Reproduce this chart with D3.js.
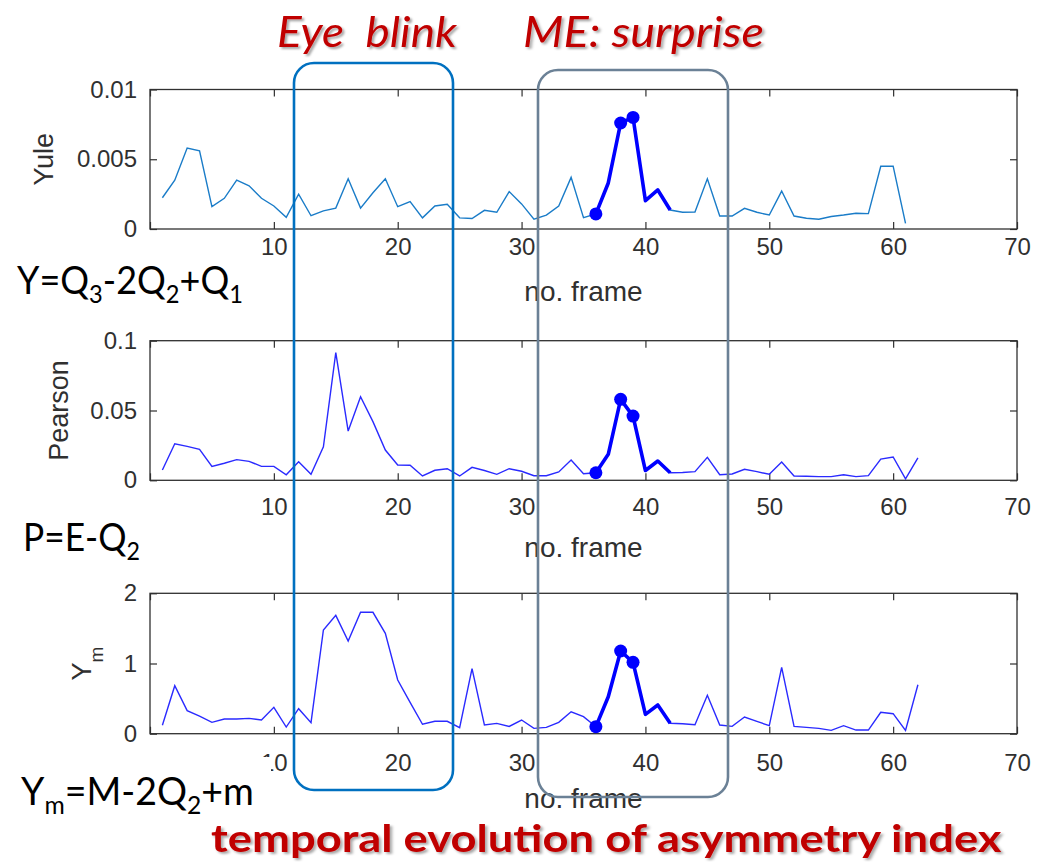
<!DOCTYPE html>
<html>
<head>
<meta charset="utf-8">
<script src="https://cdn.jsdelivr.net/npm/d3@7"></script>
<style>
    html, body { margin: 0; padding: 0; background: #fff; }
    svg { display: block; }
</style>
</head>
<body>
<svg id="chart" width="1038" height="862"></svg>
<script>
// frame numbers on the x axis
const frameTicks = [0, 10, 20, 30, 40, 50, 60, 70];

// Yule index, frames 1..61
const yuleValues = [
    0.00224, 0.0035, 0.0058, 0.0056, 0.0016, 0.0022, 0.0035, 0.0031, 0.0022, 0.00165,
    0.00084, 0.0025, 0.00095, 0.0013, 0.0015, 0.0036, 0.0015, 0.0026, 0.0036, 0.0016,
    0.00196, 0.0008, 0.00165, 0.00177, 0.0008, 0.00075, 0.00134, 0.0012, 0.00268, 0.0018,
    0.0007, 0.001, 0.00165, 0.0037, 0.00081, 0.00108, 0.0033, 0.0076, 0.0080, 0.00203,
    0.0028, 0.00136, 0.0012, 0.00122, 0.0036, 0.00093, 0.00093, 0.00148, 0.0012, 0.0010,
    0.00272, 0.00093, 0.00077, 0.0007, 0.0009, 0.001, 0.00113, 0.0011, 0.0045, 0.0045,
    0.0004
];

// Pearson index, frames 1..62
const pearsonValues = [
    0.0074, 0.0262, 0.0243, 0.0222, 0.010, 0.0122, 0.0148, 0.0136, 0.010, 0.010,
    0.004, 0.0133, 0.0043, 0.024, 0.0914, 0.0353, 0.0599, 0.042, 0.0217, 0.011,
    0.0108, 0.0031, 0.0072, 0.0083, 0.0031, 0.0093, 0.007, 0.0043, 0.0083, 0.0065,
    0.0033, 0.0033, 0.006, 0.0145, 0.0047, 0.0054, 0.0186, 0.058, 0.046, 0.007,
    0.0138, 0.0054, 0.0056, 0.0062, 0.0165, 0.004, 0.0045, 0.0079, 0.0062, 0.0043,
    0.0131, 0.0031, 0.0029, 0.0026, 0.0026, 0.004, 0.0026, 0.0033, 0.0152, 0.0167,
    0.001, 0.016
];

// Ym index, frames 1..62
const ymValues = [
    0.12, 0.684, 0.328, 0.252, 0.162, 0.209, 0.209, 0.218, 0.195, 0.376,
    0.095, 0.356, 0.157, 1.477, 1.686, 1.32, 1.729, 1.729, 1.43, 0.765,
    0.447, 0.134, 0.177, 0.177, 0.085, 0.926, 0.124, 0.147, 0.104, 0.195,
    0.076, 0.09, 0.162, 0.313, 0.242, 0.1, 0.527, 1.178, 1.017, 0.276,
    0.409, 0.148, 0.142, 0.128, 0.547, 0.123, 0.104, 0.238, 0.176, 0.114,
    0.946, 0.104, 0.09, 0.076, 0.048, 0.114, 0.052, 0.052, 0.304, 0.285,
    0.048, 0.698
];

// the micro-expression stretch drawn thick, and the frames with dots
const highlightRange = [36, 42];
const markerFrames = [36, 38, 39];

const yuleTicks = [0, 0.005, 0.01];
const yuleTickLabels = ["0", "0.005", "0.01"];
const pearsonTicks = [0, 0.05, 0.1];
const pearsonTickLabels = ["0", "0.05", "0.1"];
const ymTicks = [0, 1, 2];
const ymTickLabels = ["0", "1", "2"];

const svg = d3.select("#chart");
const axisFont = '"Liberation Sans", Arial, Helvetica, sans-serif';
const slideFont = 'Lato, "Open Sans", sans-serif';
const axisInk = "#303030";

const x = d3.scaleLinear().domain([0, 70]).range([150, 1017]);

const panels = [
    { label: "Yule", values: yuleValues, ticks: yuleTicks, tickLabels: yuleTickLabels,
      max: 0.01, top: 89.5, bottom: 229, color: "#1a7cc8", pad: 9, xlabelY: 301, ylabelX: 44 },
    { label: "Pearson", values: pearsonValues, ticks: pearsonTicks, tickLabels: pearsonTickLabels,
      max: 0.1, top: 340.7, bottom: 480.3, color: "#2a2aff", pad: 18, xlabelY: 557, ylabelX: 59 },
    { label: "Ym", values: ymValues, ticks: ymTicks, tickLabels: ymTickLabels,
      max: 2, top: 593.3, bottom: 733.7, color: "#2a2aff", pad: 20, xlabelY: 808, ylabelX: 82 }
];

panels.forEach(p => {
    const y = d3.scaleLinear().domain([0, p.max]).range([p.bottom, p.top]);
    const g = svg.append("g");

    const styleAxis = sel => {
        sel.select(".domain").remove();
        sel.selectAll(".tick line").attr("stroke", axisInk).attr("stroke-width", 1.2);
        sel.selectAll(".tick text")
            .attr("fill", axisInk)
            .style("font-family", axisFont)
            .style("font-size", "24px");
    };

    // the "0" frame label sits under the slide's formula box, so it is left out
    g.append("g")
        .attr("transform", `translate(0,${p.bottom})`)
        .call(d3.axisBottom(x).tickValues(frameTicks).tickSize(-7).tickPadding(p.pad)
            .tickFormat(d => d === 0 ? "" : d3.format("d")(d)))
        .call(styleAxis);
    g.append("g")
        .attr("transform", `translate(0,${p.top})`)
        .call(d3.axisTop(x).tickValues(frameTicks).tickSize(-7).tickFormat(""))
        .call(styleAxis);
    g.append("g")
        .attr("transform", `translate(${x(0)},0)`)
        .call(d3.axisLeft(y).tickValues(p.ticks).tickSize(-7).tickPadding(13)
            .tickFormat((d, i) => p.tickLabels[i]))
        .call(styleAxis);
    g.append("g")
        .attr("transform", `translate(${x(70)},0)`)
        .call(d3.axisRight(y).tickValues(p.ticks).tickSize(-7).tickFormat(""))
        .call(styleAxis);

    g.append("rect")
        .attr("x", x(0)).attr("y", p.top)
        .attr("width", x(70) - x(0)).attr("height", p.bottom - p.top)
        .attr("fill", "none").attr("stroke", axisInk).attr("stroke-width", 1.3);

    // series
    const pts = p.values.map((v, i) => ({ f: i + 1, v }));
    const line = d3.line().x(d => x(d.f)).y(d => y(d.v));

    g.append("path")
        .datum(pts)
        .attr("d", line)
        .attr("fill", "none")
        .attr("stroke", p.color)
        .attr("stroke-width", 1.4)
        .attr("stroke-linejoin", "miter");

    g.append("path")
        .datum(pts.filter(d => d.f >= highlightRange[0] && d.f <= highlightRange[1]))
        .attr("d", line)
        .attr("fill", "none")
        .attr("stroke", "#0000ff")
        .attr("stroke-width", 3.6)
        .attr("stroke-linejoin", "round");

    g.selectAll("circle.mk")
        .data(pts.filter(d => markerFrames.includes(d.f)))
        .enter()
        .append("circle")
        .attr("class", "mk")
        .attr("cx", d => x(d.f))
        .attr("cy", d => y(d.v))
        .attr("r", 6.5)
        .attr("fill", "#0000ff");

    // axis labels
    g.append("text")
        .attr("x", x(35))
        .attr("y", p.xlabelY)
        .attr("text-anchor", "middle")
        .attr("fill", axisInk)
        .style("font-family", axisFont)
        .style("font-size", "28px")
        .text("no. frame");

    const yl = g.append("text")
        .attr("transform", `translate(${p.ylabelX},${(p.top + p.bottom) / 2}) rotate(-90)`)
        .attr("text-anchor", "middle")
        .attr("dy", "0.35em")
        .attr("fill", axisInk)
        .style("font-family", axisFont)
        .style("font-size", "27px");
    if (p.label === "Ym") {
        yl.append("tspan").text("Y");
        yl.append("tspan").attr("dy", 12).style("font-size", "19px").text("m");
    } else {
        yl.text(p.label);
    }
});

// squeeze or stretch a text node so it spans the given width
function fitText(sel, x0, baseline, width) {
    const bb = sel.node().getBBox();
    const s = width / bb.width;
    sel.attr("transform", `translate(${x0 - bb.x * s},${baseline}) scale(${s},1)`);
}

// white text boxes of the slide, lying over the axes
const coverBoxes = [
    { x: 0, y: 258, w: 258, h: 52 },
    { x: 0, y: 512, w: 200, h: 52 },
    { x: 0, y: 757, w: 271, h: 60 }
];
svg.selectAll("rect.cover")
    .data(coverBoxes)
    .enter()
    .append("rect")
    .attr("class", "cover")
    .attr("x", d => d.x).attr("y", d => d.y)
    .attr("width", d => d.w).attr("height", d => d.h)
    .attr("fill", "#fff");

// formulas: [text, isSubscript] pieces
const formulas = [
    { parts: [["Y=Q", 0], ["3", 1], ["-2Q", 0], ["2", 1], ["+Q", 0], ["1", 1]], x: 17, y: 294, w: 226 },
    { parts: [["P=E-Q", 0], ["2", 1]], x: 23, y: 551, w: 117 },
    { parts: [["Y", 0], ["m", 1], ["=M-2Q", 0], ["2", 1], ["+m", 0]], x: 21, y: 805, w: 233 }
];
formulas.forEach(f => {
    const t = svg.append("text")
        .attr("fill", "#000")
        .style("font-family", slideFont)
        .style("font-size", "38px");
    let down = false;
    f.parts.forEach(([s, sub]) => {
        const ts = t.append("tspan").text(s);
        if (sub && !down) { ts.attr("dy", 9).style("font-size", "25px"); down = true; }
        else if (sub) { ts.style("font-size", "25px"); }
        else if (down) { ts.attr("dy", -9); down = false; }
    });
    fitText(t, f.x, f.y, f.w);
});

// highlight boxes
svg.append("rect")
    .attr("x", 294).attr("y", 63).attr("width", 159).attr("height", 727)
    .attr("rx", 20).attr("ry", 20)
    .attr("fill", "none").attr("stroke", "#0070c0").attr("stroke-width", 2.6);
svg.append("rect")
    .attr("x", 538).attr("y", 70).attr("width", 190).attr("height", 727)
    .attr("rx", 20).attr("ry", 20)
    .attr("fill", "none").attr("stroke", "#6b8196").attr("stroke-width", 2.6);

// red captions with a soft shadow
const defs = svg.append("defs");
defs.append("filter")
    .attr("id", "shadow")
    .attr("x", "-5%").attr("y", "-20%").attr("width", "115%").attr("height", "150%")
    .append("feDropShadow")
    .attr("dx", 2).attr("dy", 2).attr("stdDeviation", 1.2)
    .attr("flood-color", "#000").attr("flood-opacity", 0.35);

const captions = [
    { text: "Eye  blink", x: 277, y: 47, w: 181, size: 42, italic: true, bold: false },
    { text: "ME: surprise", x: 523, y: 47, w: 241, size: 42, italic: true, bold: false },
    { text: "temporal evolution of asymmetry index", x: 211, y: 852, w: 791, size: 38, italic: false, bold: true }
];
captions.forEach(c => {
    const t = svg.append("text")
        .attr("fill", "#c00000")
        .attr("filter", "url(#shadow)")
        .style("font-family", slideFont)
        .style("font-size", c.size + "px")
        .style("font-style", c.italic ? "italic" : "normal")
        .style("font-weight", c.bold ? "bold" : "normal")
        .style("white-space", "pre")
        .text(c.text);
    fitText(t, c.x, c.y, c.w);
});
</script>
</body>
</html>
